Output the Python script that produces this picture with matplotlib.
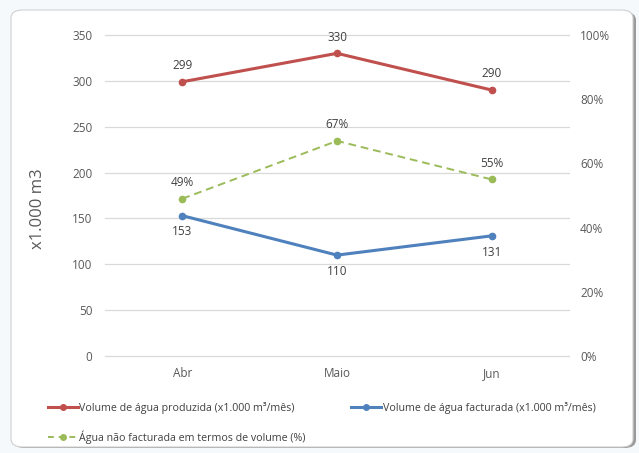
import matplotlib
matplotlib.use("Agg")
import matplotlib.pyplot as plt
from matplotlib.patches import FancyBboxPatch
from matplotlib.lines import Line2D

plt.rcParams['font.family'] = ['Open Sans', 'DejaVu Sans']

months = ["Abr", "Maio", "Jun"]
produced = [299, 330, 290]
billed = [153, 110, 131]
non_billed_pct = [49, 67, 55]

left_ticks = [0, 50, 100, 150, 200, 250, 300, 350]
right_ticks = [0, 20, 40, 60, 80, 100]

RED = "#C0504D"
BLUE = "#4F81BD"
GREEN = "#9BBB59"
TICK_COLOR = "#595959"
LABEL_COLOR = "#404040"
GRID = "#D9D9D9"

W, H = 639, 453
fig = plt.figure(figsize=(W / 100, H / 100), dpi=100)
fig.patch.set_facecolor("#F6F9FC")

# card background with shadow
shadow = FancyBboxPatch((13 / W, 5 / H), 623 / W, 436 / H,
                        boxstyle="round,pad=0,rounding_size=0.018",
                        transform=fig.transFigure, facecolor="#9A9A9A",
                        edgecolor="none", zorder=-3)
card = FancyBboxPatch((11 / W, 6 / H), 622 / W, 437 / H,
                      boxstyle="round,pad=0,rounding_size=0.018",
                      transform=fig.transFigure, facecolor="white",
                      edgecolor="#D0D0D0", linewidth=0.8, zorder=-2)
fig.patches.extend([shadow, card])

# plot area: x 105..569, y 35..356 (pixels from top)
ax = fig.add_axes([105 / W, 1 - 356 / H, 464 / W, 321 / H])
ax.set_facecolor("none")
ax2 = ax.twinx()

x = list(range(len(months)))
ax.set_xlim(-0.5, len(months) - 0.5)
ax.set_ylim(0, 350)
ax2.set_ylim(0, 100)

ax.set_yticks(left_ticks)
ax.set_yticklabels([str(t) for t in left_ticks])
ax2.set_yticks(right_ticks)
ax2.set_yticklabels([f"{t}%" for t in right_ticks])
ax.set_xticks(x)
ax.set_xticklabels(months)

for a in (ax, ax2):
    for s in a.spines.values():
        s.set_visible(False)
    a.tick_params(length=0, labelsize=8.5, colors=TICK_COLOR)
ax.tick_params(axis="y", pad=9)
ax2.tick_params(axis="y", pad=8)
ax.tick_params(axis="x", pad=8)

ax.grid(axis="y", color=GRID, linewidth=0.9)
ax.set_axisbelow(True)
for gl in ax.get_ygridlines():
    gl.set_clip_on(False)

ax.set_ylabel("x1.000 m3", fontsize=12, color=TICK_COLOR, va="center")
ax.yaxis.set_label_coords(-0.144, 0.458)

ax.plot(x, produced, color=RED, linewidth=2.2, marker="o", markersize=4.5, zorder=3)
ax.plot(x, billed, color=BLUE, linewidth=2.2, marker="o", markersize=4.5, zorder=3)
ax2.plot(x, non_billed_pct, color=GREEN, linewidth=1.4, linestyle=(0, (4, 2.5)),
         marker="o", markersize=4.5, zorder=3)

lab = dict(fontsize=8.5, color=LABEL_COLOR, ha="center")
for i, v in enumerate(produced):
    ax.annotate(str(v), (i, v), xytext=(0, 7), textcoords="offset points", va="bottom", **lab)
for i, v in enumerate(billed):
    ax.annotate(str(v), (i, v), xytext=(0, -7), textcoords="offset points", va="top", **lab)
for i, v in enumerate(non_billed_pct):
    ax2.annotate(f"{v}%", (i, v), xytext=(0, 7), textcoords="offset points", va="bottom", **lab)

handles = [
    Line2D([], [], color=RED, linewidth=2.2, marker="o", markersize=4),
    Line2D([], [], color=BLUE, linewidth=2.2, marker="o", markersize=4),
    Line2D([], [], color=GREEN, linewidth=1.4, linestyle=(0, (3, 2.5)), marker="o", markersize=4),
]
labels = [
    "Volume de água produzida (x1.000 m³/mês)",
    "Volume de água facturada (x1.000 m³/mês)",
    "Água não facturada em termos de volume (%)",
]
leg = fig.legend(handles[:2], labels[:2], loc="center left", ncol=2,
                 bbox_to_anchor=(38 / W, 1 - 408 / H), frameon=False,
                 fontsize=7.7, handlelength=2.8, handletextpad=0.15, columnspacing=5.3)
for t in leg.get_texts():
    t.set_color(LABEL_COLOR)
leg2 = fig.legend(handles[2:], labels[2:], loc="center left",
                  bbox_to_anchor=(38 / W, 1 - 437 / H), frameon=False,
                  fontsize=7.7, handlelength=2.8, handletextpad=0.15)
for t in leg2.get_texts():
    t.set_color(LABEL_COLOR)

fig.savefig("out.png", dpi=100, facecolor=fig.get_facecolor())
